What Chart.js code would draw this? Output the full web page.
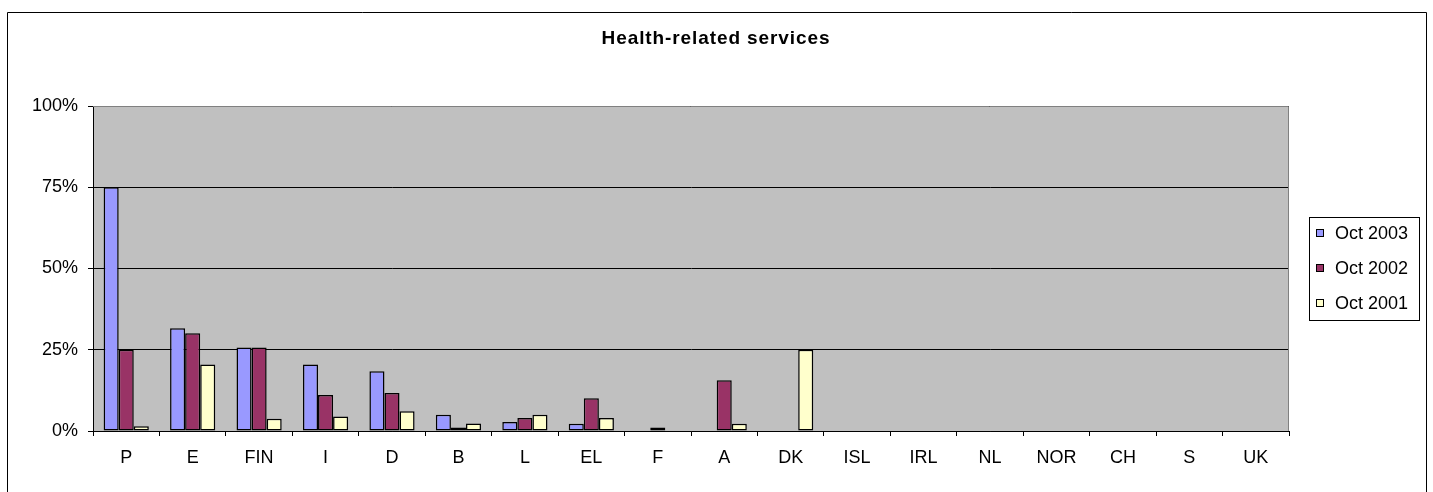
<!DOCTYPE html>
<html>
<head>
<meta charset="utf-8">
<style>
  html, body { margin: 0; padding: 0; background: #ffffff; }
  #wrap { width: 1433px; height: 492px; position: relative; }
</style>
<script src="https://cdn.jsdelivr.net/npm/chart.js@4/dist/chart.umd.min.js"></script>
</head>
<body>
<div id="wrap"><canvas id="c" width="1433" height="492"></canvas></div>
<script>
const chartTitle = 'Health-related services';
const categories = ['P','E','FIN','I','D','B','L','EL','F','A','DK','ISL','IRL','NL','NOR','CH','S','UK'];
const seriesNames = ['Oct 2003','Oct 2002','Oct 2001'];
const oct2003 = [75, 31.6, 25.7, 20.5, 18.4, 5.0, 2.8, 2.2, 0, 0, 0, 0, 0, 0, 0, 0, 0, 0];
const oct2002 = [25, 30.1, 25.7, 11.1, 11.7, 1.1, 4.0, 10.1, 1.1, 15.6, 0, 0, 0, 0, 0, 0, 0, 0];
const oct2001 = [1.5, 20.5, 3.8, 4.5, 6.1, 2.3, 5.0, 4.0, 0, 2.2, 25, 0, 0, 0, 0, 0, 0, 0];
const yTicks = [0, 25, 50, 75, 100];
const colors = ['#9999FF', '#993366', '#FFFFCC'];

const FONT = '"Liberation Sans", Arial, sans-serif';

const decor = {
  id: 'decor',
  beforeDraw(chart) {
    const ctx = chart.ctx, a = chart.chartArea;
    ctx.save();
    ctx.fillStyle = '#ffffff';
    ctx.fillRect(0, 0, chart.width, chart.height);
    ctx.fillStyle = '#C0C0C0';
    ctx.fillRect(a.left, a.top, a.right - a.left, a.bottom - a.top);
    ctx.restore();
  },
  afterDraw(chart) {
    const ctx = chart.ctx, a = chart.chartArea;
    ctx.save();
    // plot area top/right border
    ctx.strokeStyle = '#808080';
    ctx.lineWidth = 1;
    ctx.beginPath();
    ctx.moveTo(a.left, a.top + 0.5);
    ctx.lineTo(a.right - 0.5, a.top + 0.5);
    ctx.lineTo(a.right - 0.5, a.bottom);
    ctx.stroke();
    // outer chart border
    ctx.strokeStyle = '#000000';
    ctx.beginPath();
    ctx.rect(7.5, 12.5, 1419, 490);
    ctx.stroke();
    // title
    ctx.fillStyle = '#000000';
    ctx.font = 'bold 19px ' + FONT;
    ctx.textAlign = 'center';
    ctx.textBaseline = 'middle';
    try { ctx.letterSpacing = '0.9px'; } catch (e) {}
    ctx.fillText(chartTitle, 716, 39);
    try { ctx.letterSpacing = '0px'; } catch (e) {}
    // legend
    const lx = 1309, ly = 217, lw = 110, lh = 103;
    ctx.fillStyle = '#ffffff';
    ctx.fillRect(lx, ly, lw, lh);
    ctx.strokeStyle = '#000000';
    ctx.strokeRect(lx + 0.5, ly + 0.5, lw, lh);
    ctx.font = '18px ' + FONT;
    ctx.textAlign = 'left';
    chart.data.datasets.forEach((ds, i) => {
      const cy = 233 + i * 35;
      ctx.fillStyle = ds.backgroundColor;
      ctx.fillRect(1316, cy - 3.5, 7, 7);
      ctx.strokeStyle = '#000';
      ctx.strokeRect(1316.5, cy - 3.5, 7, 7);
      ctx.fillStyle = '#000';
      ctx.fillText(ds.label, 1335, cy + 1);
    });
    ctx.restore();
  }
};

new Chart(document.getElementById('c'), {
  type: 'bar',
  data: {
    labels: categories,
    datasets: [
      { label: seriesNames[0], data: oct2003, backgroundColor: colors[0] },
      { label: seriesNames[1], data: oct2002, backgroundColor: colors[1] },
      { label: seriesNames[2], data: oct2001, backgroundColor: colors[2] }
    ]
  },
  options: {
    responsive: false,
    animation: false,
    devicePixelRatio: 1,
    layout: { padding: { top: 106, left: 7, right: 144, bottom: 0 } },
    datasets: {
      bar: {
        borderColor: '#000000',
        borderWidth: 1.5,
        borderSkipped: false,
        barPercentage: 1,
        categoryPercentage: 0.68
      }
    },
    plugins: {
      legend: { display: false },
      title: { display: false },
      tooltip: { enabled: false }
    },
    scales: {
      x: {
        offset: true,
        afterFit(s) { s.height = 61; },
        grid: { display: true, drawOnChartArea: false, drawTicks: true, tickLength: 5, color: '#000000', offset: true },
        border: { display: true, color: '#000000', width: 1 },
        ticks: { color: '#000000', font: { family: FONT, size: 18 }, padding: 11, maxRotation: 0, autoSkip: false }
      },
      y: {
        min: 0, max: 100,
        afterFit(s) { s.width = 86; },
        afterBuildTicks(s) { s.ticks = yTicks.map(v => ({ value: v })); },
        grid: { color: '#000000', lineWidth: 1, tickLength: 5, drawTicks: true },
        border: { display: true, color: '#000000', width: 1 },
        ticks: { color: '#000000', font: { family: FONT, size: 18 }, padding: 10, callback: v => v + '%' }
      }
    }
  },
  plugins: [decor]
});
</script>
</body>
</html>
